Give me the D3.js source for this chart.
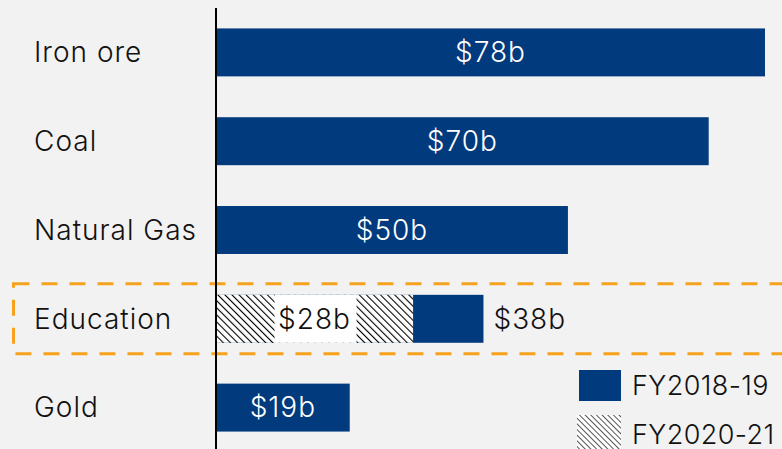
<!DOCTYPE html>
<html>
<head>
<meta charset="utf-8">
<script src="https://cdn.jsdelivr.net/npm/d3@7"></script>
<style>
  body { margin: 0; background: #f2f2f2; }
  svg { display: block; font-family: Inter, "Noto Sans", sans-serif; font-weight: 300; letter-spacing: 1px; }
</style>
</head>
<body>
<svg width="782" height="449"></svg>
<script>
// data
var categories = ["Iron ore", "Coal", "Natural Gas", "Education", "Gold"];
var fy1819 = [78, 70, 50, 38, 19];
var fy2021 = [null, null, null, 28, null];
var seriesNames = ["FY2018-19", "FY2020-21"];

var svg = d3.select("svg"),
    width = +svg.attr("width"),
    height = +svg.attr("height");

var blue = "#013a7d";
var fs = 28;

svg.append("rect").attr("width", width).attr("height", height).attr("fill", "#f2f2f2");

// hatch patterns (lines running top-left to bottom-right)
var defs = svg.append("defs");
var pat = defs.append("pattern")
    .attr("id", "hatch")
    .attr("patternUnits", "userSpaceOnUse")
    .attr("width", 5).attr("height", 5)
    .attr("patternTransform", "rotate(-45)");
pat.append("rect").attr("width", 5).attr("height", 5).attr("fill", "#fff");
pat.append("line").attr("x1", 0).attr("y1", 0).attr("x2", 0).attr("y2", 5)
    .attr("stroke", "#000").attr("stroke-width", 2.2);

var pat2 = defs.append("pattern")
    .attr("id", "hatchsmall")
    .attr("patternUnits", "userSpaceOnUse")
    .attr("width", 4).attr("height", 4)
    .attr("patternTransform", "rotate(-45)");
pat2.append("rect").attr("width", 4).attr("height", 4).attr("fill", "#fff");
pat2.append("line").attr("x1", 0).attr("y1", 0).attr("x2", 0).attr("y2", 4)
    .attr("stroke", "#555").attr("stroke-width", 2);

var x = d3.scaleLinear().domain([0, 78]).range([216, 765]);
var y = d3.scaleBand().domain(categories).range([8, 452]).paddingInner(0.46).paddingOuter(0.23);

// dashed highlight box around Education
svg.append("rect")
    .attr("x", 13.5)
    .attr("y", y("Education") - 11)
    .attr("width", 800)
    .attr("height", y.bandwidth() + 22)
    .attr("fill", "none")
    .attr("stroke", "#f6a21e")
    .attr("stroke-width", 3)
    .attr("stroke-dasharray", "16,12");

// bars
svg.selectAll("rect.bar")
    .data(categories)
    .enter().append("rect")
    .attr("class", "bar")
    .attr("x", x(0))
    .attr("y", d => y(d))
    .attr("width", (d, i) => x(fy1819[i]) - x(0))
    .attr("height", y.bandwidth())
    .attr("fill", blue);

// hatched FY2020-21 bars
var hatchData = categories.map((c, i) => ({ c: c, v: fy2021[i] })).filter(d => d.v != null);
svg.selectAll("rect.hbar")
    .data(hatchData)
    .enter().append("rect")
    .attr("class", "hbar")
    .attr("x", x(0))
    .attr("y", d => y(d.c))
    .attr("width", d => x(d.v) - x(0))
    .attr("height", y.bandwidth())
    .attr("fill", "url(#hatch)");

// value labels
categories.forEach(function (c, i) {
    var cy = y(c) + y.bandwidth() / 2;
    if (fy2021[i] != null) {
        var mid = (x(0) + x(fy2021[i])) / 2;
        svg.append("rect")
            .attr("x", mid - 40).attr("y", y(c))
            .attr("width", 82).attr("height", y.bandwidth())
            .attr("fill", "#fff");
        svg.append("text")
            .attr("x", mid).attr("y", cy)
            .attr("dy", "0.35em")
            .attr("text-anchor", "middle")
            .attr("font-size", fs)
            .attr("fill", "#111")
            .text("$" + fy2021[i] + "b");
        svg.append("text")
            .attr("x", x(fy1819[i]) + 10).attr("y", cy)
            .attr("dy", "0.35em")
            .attr("font-size", fs)
            .attr("fill", "#111")
            .text("$" + fy1819[i] + "b");
    } else {
        svg.append("text")
            .attr("x", (x(0) + x(fy1819[i])) / 2).attr("y", cy)
            .attr("dy", "0.35em")
            .attr("text-anchor", "middle")
            .attr("font-size", fs)
            .attr("fill", "#fff")
            .text("$" + fy1819[i] + "b");
    }
});

// category labels
svg.selectAll("text.cat")
    .data(categories)
    .enter().append("text")
    .attr("class", "cat")
    .attr("x", 34)
    .attr("y", d => y(d) + y.bandwidth() / 2)
    .attr("dy", "0.35em")
    .attr("font-size", fs)
    .attr("fill", "#111")
    .text(d => d);

// axis line
svg.append("line")
    .attr("x1", x(0)).attr("x2", x(0))
    .attr("y1", 8).attr("y2", height)
    .attr("stroke", "#000").attr("stroke-width", 2);

// legend
var leg = svg.append("g").attr("transform", "translate(579,370)");
leg.append("rect").attr("width", 42).attr("height", 31).attr("fill", blue);
leg.append("rect").attr("x", -2).attr("y", 45).attr("width", 44).attr("height", 40).attr("fill", "url(#hatchsmall)");
leg.selectAll("text")
    .data(seriesNames)
    .enter().append("text")
    .attr("x", 53)
    .attr("y", (d, i) => 16 + i * 49)
    .attr("dy", "0.35em")
    .attr("font-size", fs - 1)
    .attr("letter-spacing", "0.4px")
    .attr("fill", "#111")
    .text(d => d);
</script>
</body>
</html>
